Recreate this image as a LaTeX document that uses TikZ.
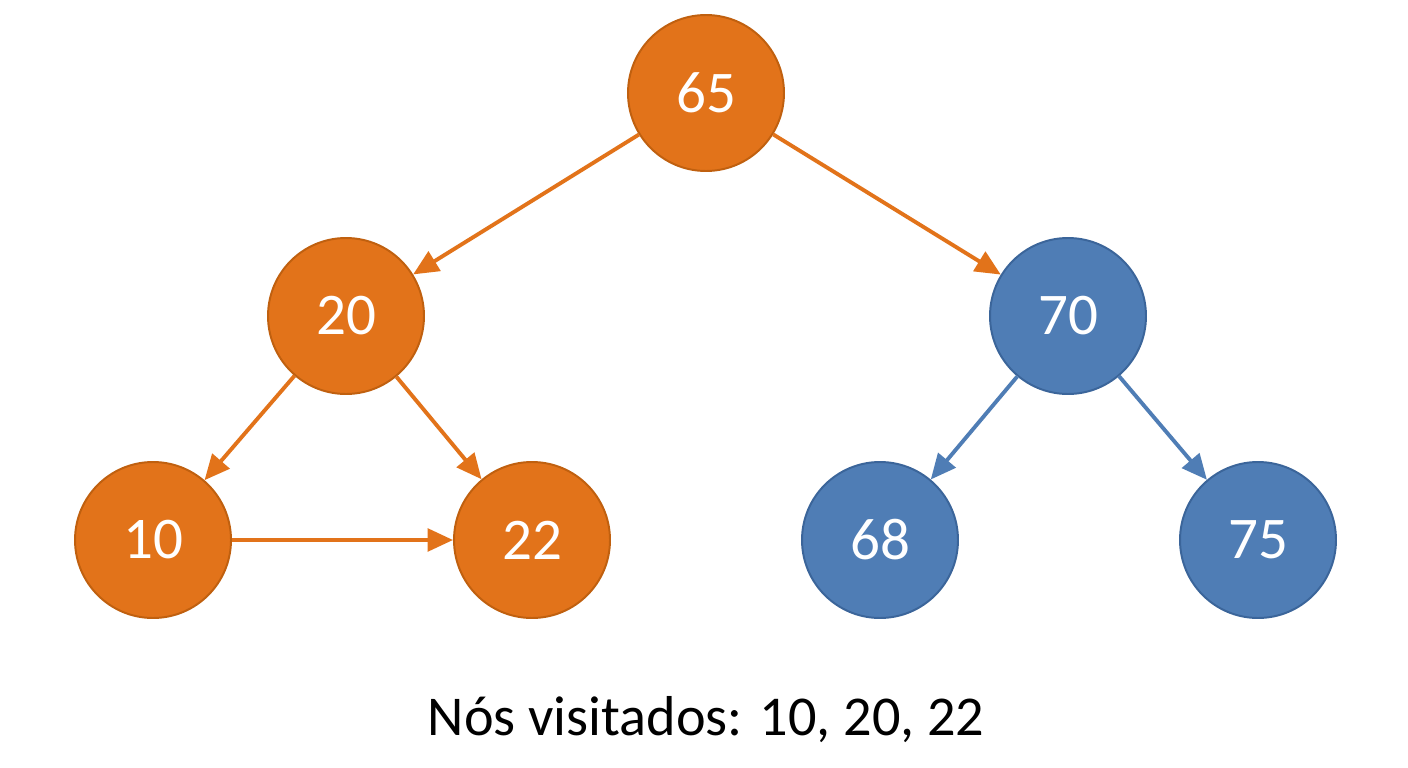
\documentclass[tikz,border=0pt]{standalone}
\usepackage{fontspec}
\setmainfont{Carlito}
\usetikzlibrary{arrows.meta}
\definecolor{org}{HTML}{E2731A}
\definecolor{orgd}{HTML}{C0600F}
\definecolor{blu}{HTML}{4F7DB5}
\definecolor{blud}{HTML}{3B659A}
\begin{document}
\begin{tikzpicture}[x=0.05cm,y=-0.05cm,
  nd/.style={circle,minimum size=7.8cm,inner sep=0pt,line width=2.8pt,text=white,font=\fontsize{84}{90}\selectfont},
  on/.style={nd,fill=org,draw=orgd},
  bn/.style={nd,fill=blu,draw=blud},
  ar/.style={line width=5.5pt,-{Triangle[length=36pt,width=32pt]}},
  oa/.style={ar,draw=org,fill=org},
  ba/.style={ar,draw=blu,fill=blu}]
\useasboundingbox (0,0) rectangle (1408,768);
\fill[white] (0,0) rectangle (1408,768);
\node[on] (a) at (706,93) {65};
\node[on] (b) at (346,316) {20};
\node[bn] (c) at (1068,316) {70};
\node[on] (d) at (153,540) {10};
\node[on] (e) at (532,540) {22};
\node[bn] (f) at (880,540) {68};
\node[bn] (g) at (1258,540) {75};
\draw[oa] (a) -- (b);
\draw[oa] (a) -- (c);
\draw[oa] (b) -- (d);
\draw[oa] (b) -- (e);
\draw[oa] (d) -- (e);
\draw[ba] (c) -- (f);
\draw[ba] (c) -- (g);
\node[font=\fontsize{80}{86}\selectfont] (t) at (706,720) {Nós visitados: 10, 20, 22};
\end{tikzpicture}
\end{document}
